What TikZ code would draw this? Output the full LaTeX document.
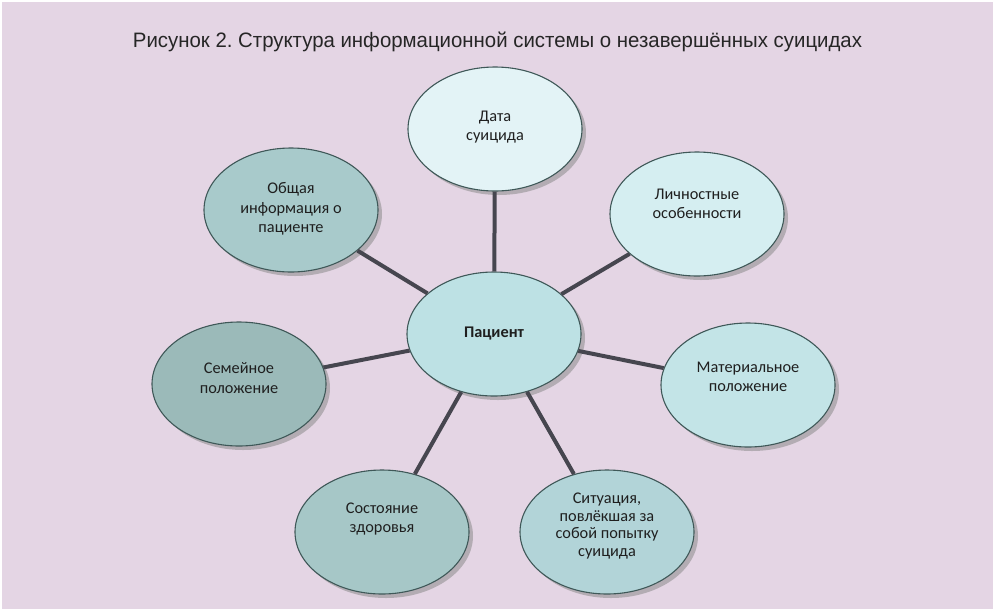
\documentclass[tikz,border=0pt]{standalone}
\usepackage{fontspec}
\setmainfont{Carlito}
\newfontfamily\titlefont{Liberation Sans}
\usetikzlibrary{shapes.geometric,shadows,calc}
\frenchspacing
\definecolor{bgpink}{HTML}{E4D5E4}
\definecolor{rimcol}{HTML}{3F5858}
\definecolor{linkcol}{HTML}{46464F}
\definecolor{cData}{HTML}{E3F3F6}
\definecolor{cLich}{HTML}{D5EEF1}
\definecolor{cObsh}{HTML}{A8CACB}
\definecolor{cPac}{HTML}{BDE1E4}
\definecolor{cSem}{HTML}{9BBAB9}
\definecolor{cMat}{HTML}{C3E4E7}
\definecolor{cSost}{HTML}{A6C7C7}
\definecolor{cSit}{HTML}{B2D4D8}
\tikzset{
  bub/.style={ellipse, draw=rimcol, line width=1.1pt, minimum width=174pt, minimum height=124pt,
    drop shadow={shadow xshift=4pt, shadow yshift=-4pt, fill=black!45, opacity=0.55}},
  txt/.style={align=center, font=\fontsize{16.3pt}{19.5pt}\selectfont, text=black!88},
  link/.style={draw=linkcol, line width=4pt}
}
\begin{document}
\begin{tikzpicture}[x=1pt,y=-1pt]
\useasboundingbox (0,0) rectangle (998,614);
\fill[white] (0,0) rectangle (998,614);
\fill[bgpink] (2,2) rectangle (993,609);
\node[anchor=base, text=black!85, inner sep=0pt] (title) at (497.5,47)
  {\resizebox{729pt}{15.5pt}{\titlefont Рисунок 2. Структура информационной системы о незавершённых суицидах}};

\node[bub, fill=cPac] (pac) at (494,334) {};
\node[bub, fill=cData] (data) at (495,129) {};
\node[bub, fill=cLich] (lich) at (697,214) {};
\node[bub, fill=cObsh] (obsh) at (291,210) {};
\node[bub, fill=cSem] (sem) at (239,384) {};
\node[bub, fill=cMat] (mat) at (748,385) {};
\node[bub, fill=cSost] (sost) at (382,532) {};
\node[bub, fill=cSit] (sit) at (607,532) {};

\draw[link] (pac) -- (data);
\draw[link] (pac) -- (lich);
\draw[link] (pac) -- (obsh);
\draw[link] (pac) -- (sem);
\draw[link] (pac) -- (mat);
\draw[link] (pac) -- (sost);
\draw[link] (pac) -- (sit);

\node[txt, font=\bfseries\fontsize{16.3pt}{19.5pt}\selectfont] (tpac) at ($(pac)+(0,0)$) {Пациент};
\node[txt] (tdata) at ($(data)+(0,-2)$) {Дата\\суицида};
\node[txt] (tlich) at ($(lich)+(0,-10)$) {Личностные\\особенности};
\node[txt] (tobsh) at ($(obsh)+(0,-1)$) {Общая\\информация о\\пациенте};
\node[txt] (tsem) at ($(sem)+(0,-6)$) {Семейное\\положение};
\node[txt] (tmat) at ($(mat)+(0,-8)$) {Материальное\\положение};
\node[txt] (tsost) at ($(sost)+(0,-13)$) {Состояние\\здоровья};
\node[txt, font=\fontsize{16.3pt}{17.5pt}\selectfont] (tsit) at ($(sit)+(0,-6)$) {Ситуация,\\повлёкшая за\\собой попытку\\суицида};
\end{tikzpicture}
\end{document}
